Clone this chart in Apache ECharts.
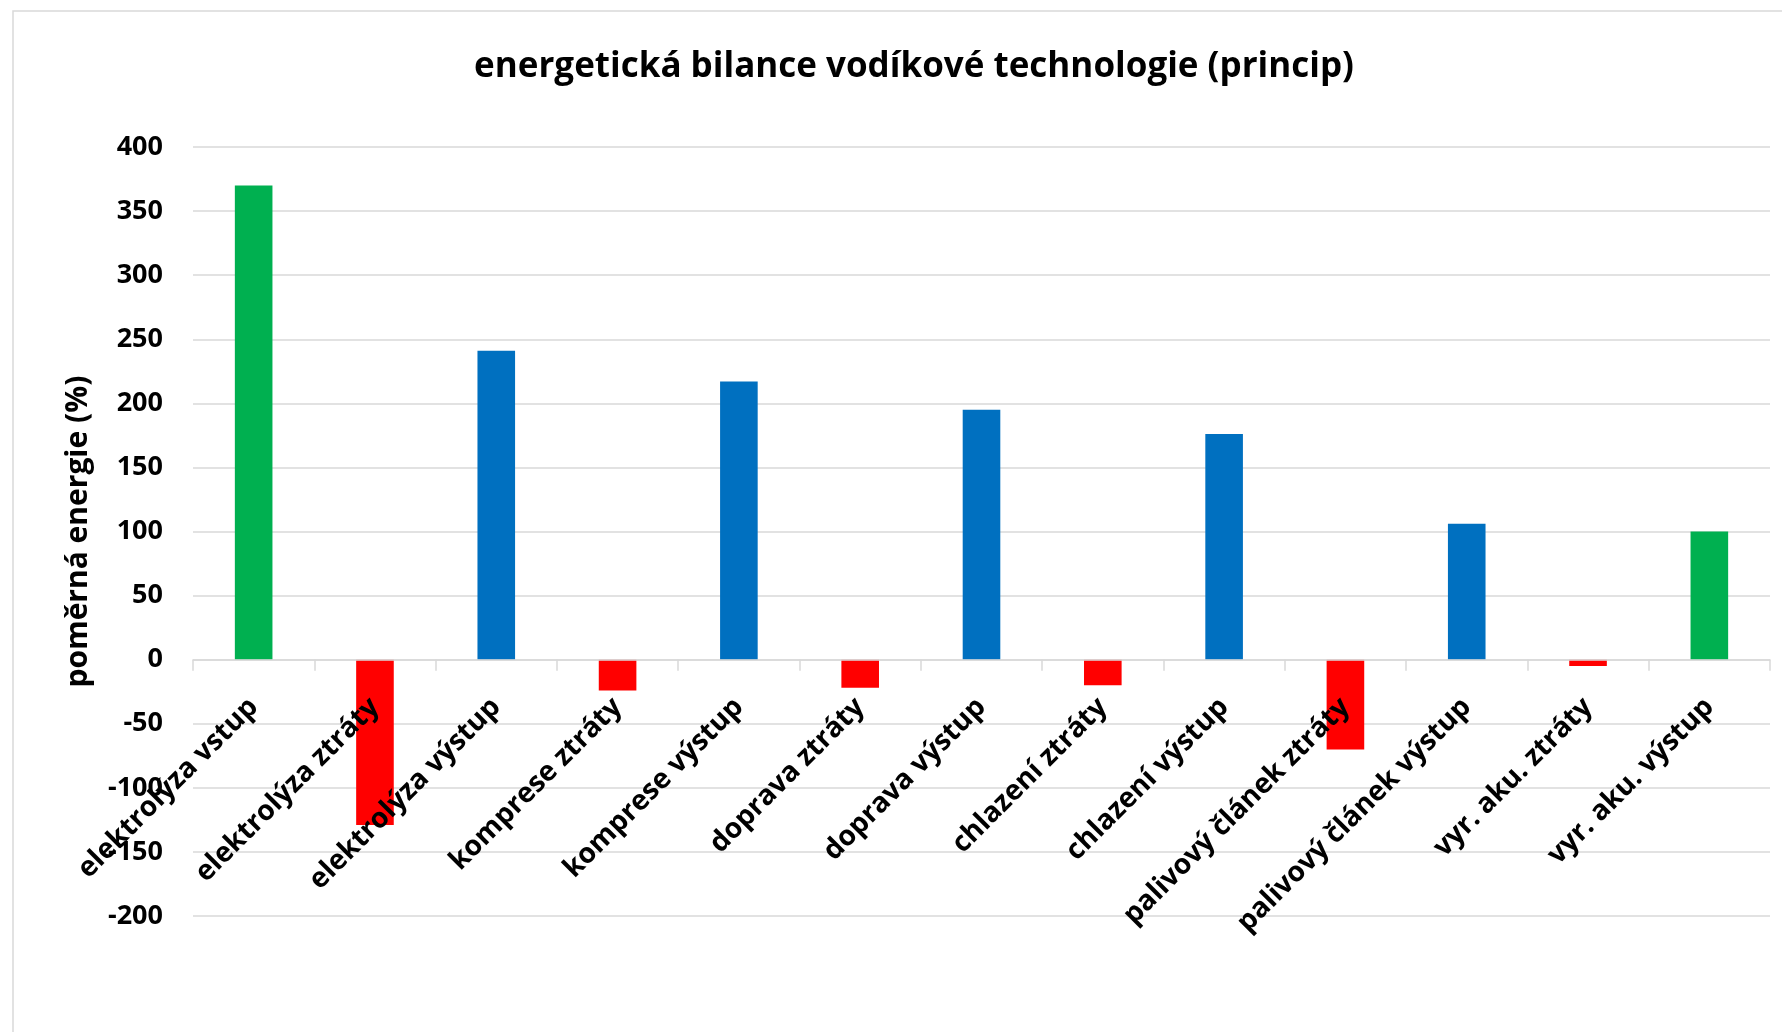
<!DOCTYPE html>
<html>
<head>
<meta charset="utf-8">
<title>energetická bilance vodíkové technologie</title>
<script src="https://cdn.jsdelivr.net/npm/echarts@6/dist/echarts.min.js"></script>
<style>
    html, body { margin: 0; padding: 0; background: #fff; }
    #container { width: 1782px; height: 1032px; }
</style>
</head>
<body>
<div id="container"></div>
<script>
// categories along the x axis
var categories = [
    'elektrolýza vstup', 'elektrolýza ztráty', 'elektrolýza výstup',
    'komprese ztráty', 'komprese výstup', 'doprava ztráty', 'doprava výstup',
    'chlazení ztráty', 'chlazení výstup', 'palivový článek ztráty',
    'palivový článek výstup', 'vyr. aku. ztráty', 'vyr. aku. výstup'
];
// relative energy (%) per step
var values = [370, -129, 241, -24, 217, -22, 195, -20, 176, -70, 106, -5, 100];
// kind of each step: electricity in/out, loss, intermediate (hydrogen)
var kinds = ['power', 'loss', 'h2', 'loss', 'h2', 'loss', 'h2',
    'loss', 'h2', 'loss', 'h2', 'loss', 'power'];
// value axis range
var yMin = -200, yMax = 400, yStep = 50;

var kindColor = {power: '#00B050', loss: '#FF0000', h2: '#0070C0'};
var font = "'Open Sans', 'Noto Sans', sans-serif";

var gridTop = 147, gridBottom = 116;
var gridHeight = 1032 - gridTop - gridBottom;
// category axis sits on the zero line, labels included
var zeroOffset = -gridHeight * (0 - yMin) / (yMax - yMin);

var barData = [];
for (var i = 0; i < values.length; i++) {
    barData.push({
        value: values[i],
        itemStyle: {color: kindColor[kinds[i]]}
    });
}

var myChart = echarts.init(document.getElementById('container'), null, {renderer: 'canvas'});
var option = {
    animation: false,
    backgroundColor: '#fff',
    title: {
        text: 'energetická bilance vodíkové technologie (princip)',
        left: 909,
        top: 45,
        textAlign: 'center',
        textStyle: {
            fontFamily: font,
            fontSize: 35,
            fontWeight: 'bold',
            color: '#000'
        }
    },
    // chart area border like in the spreadsheet
    graphic: [{
        type: 'rect',
        shape: {x: 13, y: 11, width: 1800, height: 1060},
        style: {fill: 'none', stroke: '#d9d9d9', lineWidth: 1.5},
        silent: true
    }],
    grid: {
        left: 193,
        right: 12,
        top: gridTop,
        bottom: gridBottom,
        containLabel: false,
        outerBoundsMode: 'none'
    },
    xAxis: {
        type: 'category',
        data: categories,
        offset: zeroOffset,
        z: 5,   // labels are drawn over the bars
        axisLine: {onZero: false, lineStyle: {color: '#d9d9d9', width: 1.5}},
        axisTick: {show: true, length: 11, lineStyle: {color: '#d9d9d9', width: 1.5}},
        axisLabel: {
            interval: 0,
            rotate: 45,
            margin: 43,
            fontFamily: font,
            fontSize: 28,
            fontWeight: 'bold',
            color: '#000'
        }
    },
    yAxis: {
        type: 'value',
        min: yMin,
        max: yMax,
        interval: yStep,
        name: 'poměrná energie (%)',
        nameLocation: 'middle',
        nameGap: 100,
        nameTextStyle: {
            fontFamily: font,
            fontSize: 30,
            fontWeight: 'bold',
            color: '#000'
        },
        axisLine: {show: false},
        axisTick: {show: false},
        splitLine: {lineStyle: {color: '#d9d9d9', width: 1.5}},
        axisLabel: {
            margin: 30,
            fontFamily: font,
            fontSize: 27,
            fontWeight: 'bold',
            color: '#000'
        }
    },
    series: [{
        name: 'poměrná energie',
        type: 'bar',
        barWidth: '31%',
        data: barData
    }]
};
if (option && typeof option === 'object') {
    myChart.setOption(option, true);
}
</script>
</body>
</html>
